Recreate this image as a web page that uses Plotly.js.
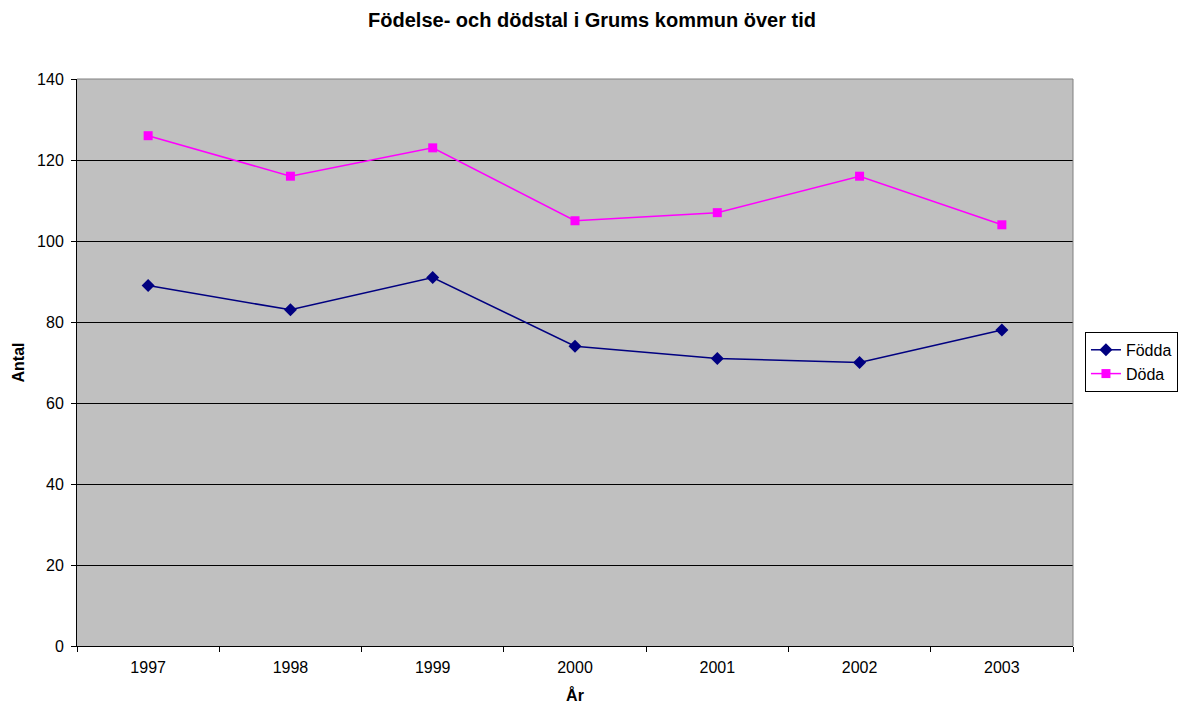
<!DOCTYPE html>
<html><head><meta charset="utf-8">
<script src="https://cdn.plot.ly/plotly-3.0.1.min.js"></script>
<style>html,body{margin:0;padding:0;background:#fff}#c{width:1184px;height:706px}</style>
</head><body><div id="c"></div>
<script>
var years = ['1997','1998','1999','2000','2001','2002','2003'];
var fodda = [89, 83, 91, 74, 71, 70, 78];
var doda = [126, 116, 123, 105, 107, 116, 104];
var yTicks = [0, 20, 40, 60, 80, 100, 120, 140];

var traces = [
  {x: years, y: fodda, name: 'Födda', type: 'scatter', mode: 'lines+markers',
   line: {color: '#000080', width: 1.5}, marker: {symbol: 'diamond', size: 10, color: '#000080'}},
  {x: years, y: doda, name: 'Döda', type: 'scatter', mode: 'lines+markers',
   line: {color: '#FF00FF', width: 1.5}, marker: {symbol: 'square', size: 9, color: '#FF00FF'}}
];
var layout = {
  width: 1184, height: 706,
  margin: {l: 77, r: 111, t: 79, b: 60, autoexpand: false},
  paper_bgcolor: '#ffffff', plot_bgcolor: '#C0C0C0',
  font: {family: 'Liberation Sans, Arial, sans-serif', size: 16, color: '#000'},
  title: {text: '<b>Födelse- och dödstal i Grums kommun över tid</b>', x: 0.5, xanchor: 'center', y: 0.972, yanchor: 'middle',
          font: {size: 20, color: '#000'}},
  xaxis: {type: 'category', tickson: 'boundaries', ticks: 'outside', ticklen: 5, tickcolor: '#000',
          showline: true, linecolor: '#000', linewidth: 1, showgrid: false, zeroline: false,
          range: [-0.5, 6.5], mirror: false, ticklabelstandoff: 7, tickfont: {size: 16},
          title: {text: '<b>År</b>', font: {size: 16}, standoff: 14}},
  yaxis: {range: [0, 140], tickvals: yTicks, ticks: 'outside', ticklen: 5, tickcolor: '#000',
          showline: true, linecolor: '#000', linewidth: 1, showgrid: true, gridcolor: '#000', gridwidth: 1,
          zeroline: false, tickfont: {size: 16}, ticklabelstandoff: 4,
          title: {text: '<b>Antal</b>', font: {size: 16}, standoff: 8}},
  legend: {x: 1.012, y: 0.554, xanchor: 'left', yanchor: 'top', bgcolor: '#fff', bordercolor: '#000', borderwidth: 1,
           font: {size: 16}, tracegroupgap: 0, itemwidth: 30},
  shapes: [
    {type: 'line', xref: 'paper', yref: 'paper', x0: 0, x1: 1, y0: 1, y1: 1, line: {color: '#808080', width: 1}},
    {type: 'line', xref: 'paper', yref: 'paper', x0: 1, x1: 1, y0: 0, y1: 1, line: {color: '#808080', width: 1}}
  ],
  showlegend: true
};
Plotly.newPlot('c', traces, layout, {displayModeBar: false, staticPlot: true});
</script></body></html>
